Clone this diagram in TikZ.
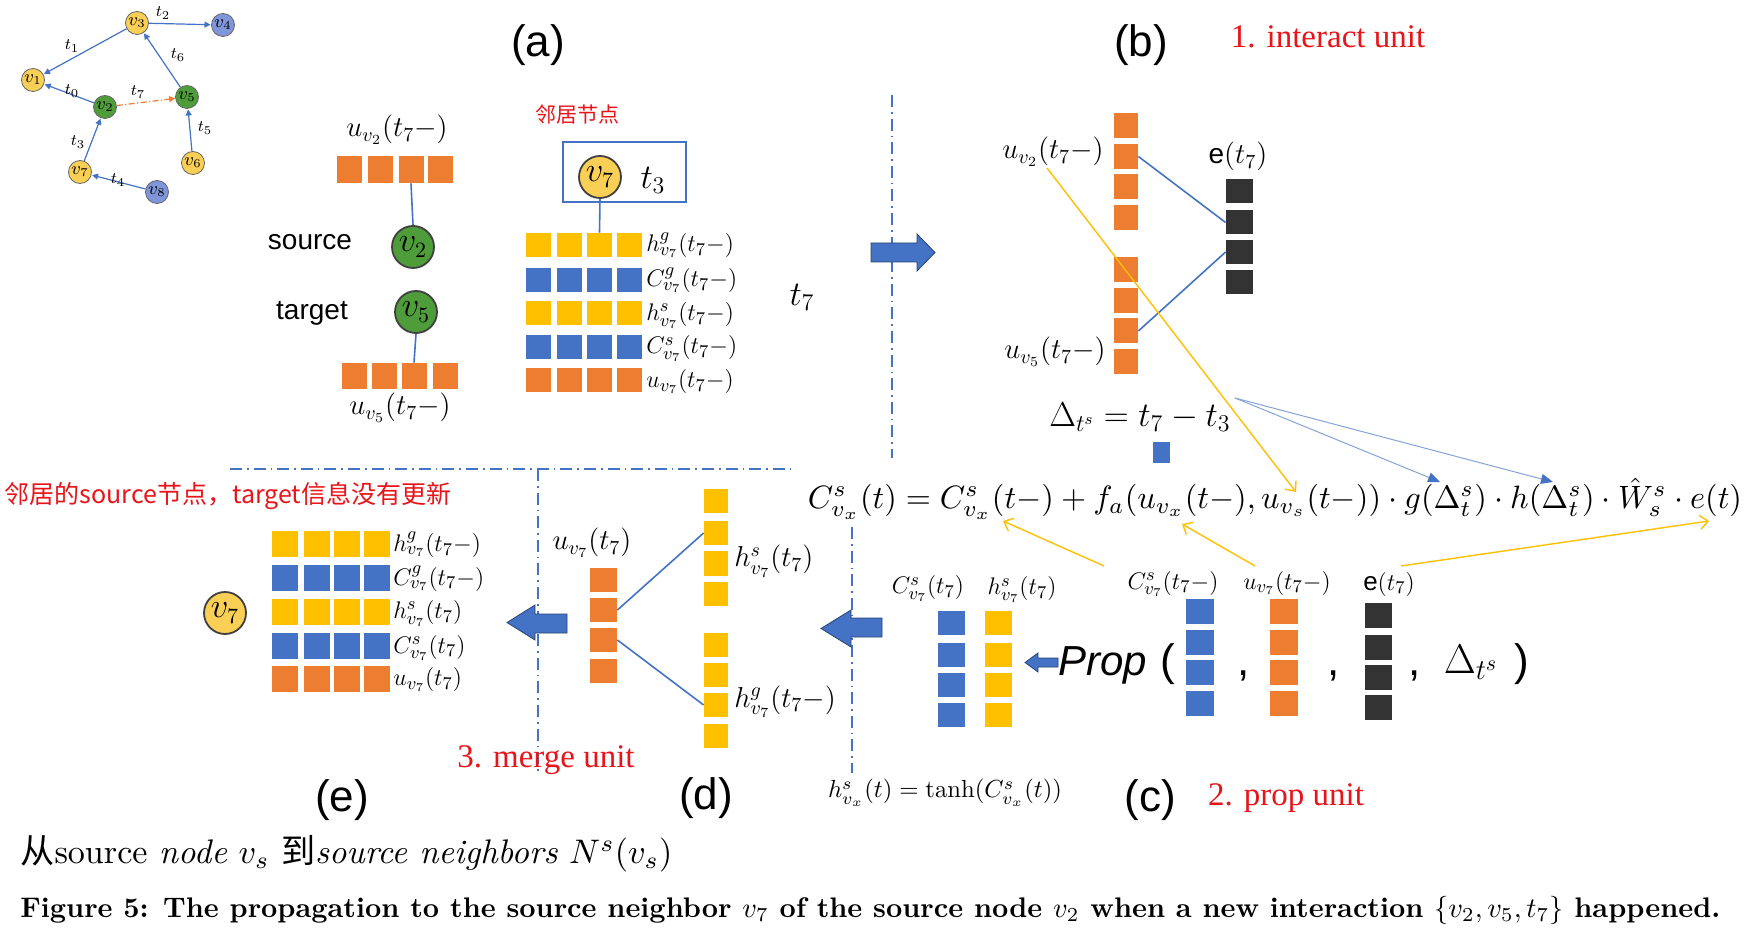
\documentclass[tikz,border=0pt]{standalone}
\usepackage{fontspec}
\usepackage{amsmath}
\usepackage{graphicx}
\usetikzlibrary{arrows.meta,calc}
\newfontfamily\arialf{Liberation Sans}
\newfontfamily\timesf{Liberation Serif}
\newfontfamily\cjkf{Noto Sans CJK SC}
\definecolor{cOr}{HTML}{ED7D31}
\definecolor{cYe}{HTML}{FFC000}
\definecolor{cBl}{HTML}{4472C4}
\definecolor{cBk}{HTML}{333333}
\definecolor{nYe}{HTML}{F9CF55}
\definecolor{nGr}{HTML}{4F9D3A}
\definecolor{nBl}{HTML}{7F96DA}
\definecolor{cRed}{HTML}{E8141A}
\newcommand{\fs}[1]{\fontsize{#1}{#1}\selectfont}
\begin{document}
\begin{tikzpicture}[x=0.5pt,y=-0.5pt,
  sq/.style={rectangle,inner sep=0pt,draw=none,minimum width=12.5pt,minimum height=12pt},
  gnode/.style={circle,draw=black!60,line width=0.4pt,minimum size=11.5pt,inner sep=0pt,font=\fs{9}},
  bignode/.style={circle,draw=black!75,line width=0.9pt,minimum size=21pt,inner sep=0pt,font=\fs{16}},
  gedge/.style={draw=cBl,line width=0.6pt,-{Triangle[length=3pt,width=3pt]},shorten >=0.3pt},
  oedge/.style={draw=cOr,line width=0.6pt,dash pattern=on 3pt off 1.2pt on 0.6pt off 1.2pt,-{Triangle[length=3pt,width=3pt]}},
  elab/.style={font=\fs{8.5},inner sep=0pt},
  conn/.style={draw=cBl,line width=0.8pt},
  ddot/.style={draw=cBl,line width=0.8pt,dash pattern=on 6pt off 2.5pt on 0.8pt off 2.5pt},
  yarr/.style={draw=cYe,line width=0.7pt,-{Straight Barb[length=4pt,width=7pt]}},
  barr/.style={draw=cBl!65,line width=0.5pt,-{Triangle[length=6pt,width=5pt,color=cBl]}},
  lab/.style={font=\fs{13},inner sep=0pt,text height=8pt,text depth=1pt},
  sanslab/.style={font=\arialf\fs{22},inner sep=0pt},
  redlab/.style={text=cRed,font=\timesf\fs{16.5},inner sep=0pt},
  blockarr/.style={fill=cBl,draw=cBl!60!black,line width=0.4pt}]
\fill[white] (0,0) rectangle (1757,935);
\useasboundingbox (0,0) rectangle (1757,935);

% ---------- small graph ----------
\node[gnode,fill=nYe] (g1) at (33,80) {$v_1$};
\node[gnode,fill=nGr] (g2) at (105,107) {$v_2$};
\node[gnode,fill=nYe] (g3) at (137,23) {$v_3$};
\node[gnode,fill=nBl] (g4) at (223,25) {$v_4$};
\node[gnode,fill=nGr] (g5) at (187,97) {$v_5$};
\node[gnode,fill=nYe] (g6) at (193,163) {$v_6$};
\node[gnode,fill=nYe] (g7) at (80,172) {$v_7$};
\node[gnode,fill=nBl] (g8) at (157,192) {$v_8$};
\draw[gedge] (g3) -- (g4);
\draw[gedge] (g3) -- (g1);
\draw[gedge] (g2) -- (g1);
\draw[gedge] (g5) -- (g3);
\draw[gedge] (g6) -- (g5);
\draw[gedge] (g7) -- (g2);
\draw[gedge] (g8) -- (g7);
\draw[oedge] (g2) -- (g5);
\node[elab] (t2) at (163,13) {$t_2$};
\node[elab] (t1) at (72,46) {$t_1$};
\node[elab] (t6) at (178,55) {$t_6$};
\node[elab] (t0) at (72,91) {$t_0$};
\node[elab] (t7g) at (138,92) {$t_7$};
\node[elab] (t5) at (205,128) {$t_5$};
\node[elab] (t3) at (78,142) {$t_3$};
\node[elab] (t4) at (118,180) {$t_4$};

% ---------- titles ----------
\node[sanslab] (la) at (538,45) {(a)};
\node[sanslab] (lb) at (1141,45) {(b)};
\node[redlab] (lint) at (1328,37) {1. interact unit};

% ---------- (a) source / target ----------
\node[lab,font=\fs{14}] (au2) at (397,130) {$u_{v_2}(t_7-)$};
\foreach \i/\x in {1/349.5,2/380.5,3/411,4/440.5}{
  \node[sq,fill=cOr,minimum height=13.5pt] (ao\i) at (\x,169.5) {};}
\node[bignode,fill=nGr] (av2) at (413,247) {$v_2$};
\node[font=\arialf\fs{14}] (asrc) at (310,242) {source};
\node[bignode,fill=nGr] (av5) at (416,312) {$v_5$};
\node[font=\arialf\fs{14}] (atgt) at (312,313) {target};
\foreach \i/\x in {1/354,2/384.5,3/414,4/445}{
  \node[sq,fill=cOr,minimum height=13pt] (bo\i) at (\x,376) {};}
\node[lab,font=\fs{14}] (au5) at (400,408) {$u_{v_5}(t_7-)$};
\draw[conn] (ao3.south) -- (av2.north);
\draw[conn] (av5.south) -- (bo3.north);

% ---------- (a) neighbour ----------
\node[text=cRed,font=\cjkf\fs{10.5}] (anb) at (577,115) {邻居节点};
\node[draw=cBl,line width=1pt,minimum width=61.5pt,minimum height=30pt,inner sep=0pt] (abox) at (624.5,172) {};
\node[bignode,fill=nYe] (nv7) at (600,177) {$v_7$};
\node[font=\fs{17}] (at3) at (653,180) {$t_3$};
\foreach \c/\x in {1/538,2/569.5,3/599.5,4/629.5}{
  \foreach \r/\y/\col in {1/245/cYe,2/280/cBl,3/313.5/cYe,4/347/cBl,5/380.5/cOr}{
    \node[sq,fill=\col] (am\r\c) at (\x,\y) {};}}
\draw[conn] (nv7.south) -- (am13.north);
\node[lab,anchor=west] (aml1) at (646,245) {$h^{g}_{v_7}(t_7-)$};
\node[lab,anchor=west] (aml2) at (646,280) {$C^{g}_{v_7}(t_7-)$};
\node[lab,anchor=west] (aml3) at (646,313.5) {$h^{s}_{v_7}(t_7-)$};
\node[lab,anchor=west] (aml4) at (646,347) {$C^{s}_{v_7}(t_7-)$};
\node[lab,anchor=west] (aml5) at (646,380.5) {$u_{v_7}(t_7-)$};

\node[font=\fs{17}] (t7big) at (802,297) {$t_7$};

% ---------- separators ----------
\coordinate (s1a) at (892,95); \coordinate (s1b) at (892,458);
\coordinate (s2a) at (230,469); \coordinate (s2b) at (796,469);
\coordinate (s3a) at (538,469); \coordinate (s3b) at (538,773);
\coordinate (s4a) at (852,527); \coordinate (s4b) at (852,773);
\draw[ddot] (s1a) -- (s1b);
\draw[ddot] (s2a) -- (s2b);
\draw[ddot] (s3a) -- (s3b);
\draw[ddot] (s4a) -- (s4b);

% block arrow a->b
\fill[blockarr] (871,243) -- (917,243) -- (917,234) -- (935,252.5) -- (917,271) -- (917,262) -- (871,262) -- cycle;

% ---------- (b) ----------
\foreach \i/\y in {1/126,2/156.5,3/187,4/217.5,5/270,6/300.5,7/331,8/361.5}{
  \node[sq,fill=cOr,minimum width=12pt,minimum height=12.5pt] (bc\i) at (1126,\y) {};}
\foreach \i/\y in {1/191.5,2/222.5,3/252,4/282}{
  \node[sq,fill=cBk,minimum width=13.5pt,minimum height=12pt] (bk\i) at (1239.5,\y) {};}
\draw[conn] (bc2.east) -- (bk2.west);
\draw[conn] (bc7.east) -- (bk3.west);
\node[lab,anchor=east,font=\fs{14}] (bu2) at (1104,152) {$u_{v_2}(t_7-)$};
\node[lab,anchor=east,font=\fs{14}] (bu5) at (1106,352) {$u_{v_5}(t_7-)$};
\node[lab,font=\fs{14}] (be) at (1238,157) {{\arialf e}$(t_7)$};
\node[font=\fs{17},inner sep=0pt] (bdelta) at (1140,417) {$\Delta_{t^s} = t_7 - t_3$};
\node[sq,fill=cBl,minimum width=8.5pt,minimum height=10.5pt] (bsq) at (1161.5,452.5) {};

% ---------- formula ----------
\node[inner sep=0pt] (form) at (1275,499) {\resizebox{467pt}{!}{$C^{s}_{v_x}(t) = C^{s}_{v_x}(t-) + f_a(u_{v_x}(t-), u_{v_s}(t-)) \cdot g(\Delta^{s}_{t}) \cdot h(\Delta^{s}_{t}) \cdot \hat{W}^{s}_{s} \cdot e(t)$}};
\coordinate (ystart) at (1047,168);
\coordinate (tipus) at (1296,492);
\coordinate (dstart) at (1235,398);
\coordinate (tipg) at (1440,482);
\coordinate (tiph) at (1553,482);
\coordinate (tipC) at (1003,521);
\coordinate (tipux) at (1182,524);
\coordinate (tipe) at (1709,521);
\draw[yarr] (ystart) -- (tipus);
\draw[barr] (dstart) -- (tipg);
\draw[barr] (dstart) -- (tiph);

% ---------- (c) ----------
\fill[blockarr] (882,618) -- (851,618) -- (851,610) -- (821,628.5) -- (851,647) -- (851,637) -- (882,637) -- cycle;
\foreach \i/\y in {1/622.5,2/655,3/685,4/715}{
  \node[sq,fill=cBl,minimum width=13.5pt,minimum height=12pt] (cb\i) at (951.5,\y) {};
  \node[sq,fill=cYe,minimum width=13.5pt,minimum height=12pt] (cy\i) at (998.5,\y) {};}
\node[lab] (clC) at (928,587) {$C^{s}_{v_7}(t_7)$};
\node[lab] (clh) at (1022,588) {$h^{s}_{v_7}(t_7)$};
\fill[blockarr] (1058,658) -- (1038,658) -- (1038,653) -- (1025,662.5) -- (1038,672) -- (1038,667) -- (1058,667) -- cycle;
\node[font=\arialf\itshape\fs{21},inner sep=0pt,anchor=base west] (prop) at (1058,675) {Prop};
\node[font=\arialf\fs{22},inner sep=0pt,anchor=base] (lpar) at (1168,675) {(};
\foreach \i/\y in {1/611.5,2/642.5,3/672.5,4/703.5}{
  \node[sq,fill=cBl,minimum width=14pt,minimum height=12.5pt] (pb\i) at (1200,\y) {};
  \node[sq,fill=cOr,minimum width=14pt,minimum height=12.5pt] (po\i) at (1284,\y) {};}
\foreach \i/\y in {1/615,2/647.5,3/677.5,4/707}{
  \node[sq,fill=cBk,minimum width=13.5pt,minimum height=12.5pt] (pk\i) at (1378,\y) {};}
\node[font=\arialf\fs{22},inner sep=0pt,anchor=base] (cm1) at (1244,675) {,};
\node[font=\arialf\fs{22},inner sep=0pt,anchor=base] (cm2) at (1334,675) {,};
\node[font=\arialf\fs{22},inner sep=0pt,anchor=base] (cm3) at (1415,675) {,};
\node[font=\fs{22},inner sep=0pt,anchor=base] (pdelta) at (1471,673) {$\Delta_{t^s}$};
\node[font=\arialf\fs{22},inner sep=0pt,anchor=base] (rpar) at (1522,675) {)};
\node[lab] (plC) at (1173,582) {$C^{s}_{v_7}(t_7-)$};
\node[lab] (plu) at (1287,582) {$u_{v_7}(t_7-)$};
\node[lab] (ple) at (1389,583) {{\arialf e}$(t_7)$};
\coordinate (yc1) at (1104,566);
\coordinate (yc2) at (1255,566);
\coordinate (yc3) at (1401,566);
\draw[yarr] (yc1) -- (tipC);
\draw[yarr] (yc2) -- (tipux);
\draw[yarr] (yc3) -- (tipe);
\node[inner sep=0pt] (tanh) at (945,793) {\resizebox{117pt}{!}{$h^{s}_{v_x}(t) = \tanh(C^{s}_{v_x}(t))$}};
\node[sanslab] (lc) at (1150,800) {(c)};
\node[redlab] (lprop) at (1286,798) {2. prop unit};

% ---------- (d) ----------
\fill[blockarr] (567,614) -- (535,614) -- (535,605) -- (507,622.5) -- (535,640) -- (535,633) -- (567,633) -- cycle;
\foreach \i/\y in {1/580,2/610,3/640,4/670.5}{
  \node[sq,fill=cOr,minimum width=13.5pt,minimum height=12pt] (do\i) at (603.5,\y) {};}
\foreach \i/\y in {1/501,2/533,3/563.5,4/593.5,5/645,6/675,7/705,8/735.5}{
  \node[sq,fill=cYe,minimum width=12pt,minimum height=12pt] (dy\i) at (716,\y) {};}
\draw[conn] (do2.east) -- (dy2.west);
\draw[conn] (do3.east) -- (dy7.west);
\node[lab,font=\fs{14}] (dlu) at (592,543) {$u_{v_7}(t_7)$};
\node[lab,anchor=west,font=\fs{14}] (dlh) at (734,560) {$h^{s}_{v_7}(t_7)$};
\node[lab,anchor=west,font=\fs{14}] (dlg) at (734,700) {$h^{g}_{v_7}(t_7-)$};
\node[redlab] (lmerge) at (546,760) {3. merge unit};
\node[sanslab] (ld) at (706,798) {(d)};

% ---------- (e) ----------
\node[text=cRed,font=\cjkf\fs{12.5},inner sep=0pt] (ered) at (228,496) {邻居的source节点，target信息没有更新};
\node[bignode,fill=nYe] (ev7) at (225,613) {$v_7$};
\foreach \c/\x in {1/285,2/316.5,3/346.5,4/377}{
  \foreach \r/\y/\col in {1/544.5/cYe,2/578/cBl,3/611.5/cYe,4/646/cBl,5/678.5/cOr}{
    \node[sq,fill=\col,minimum width=13pt,minimum height=13pt] (em\r\c) at (\x,\y) {};}}
\node[lab,anchor=west] (eml1) at (393,544.5) {$h^{g}_{v_7}(t_7-)$};
\node[lab,anchor=west] (eml2) at (393,578) {$C^{g}_{v_7}(t_7-)$};
\node[lab,anchor=west] (eml3) at (393,611.5) {$h^{s}_{v_7}(t_7)$};
\node[lab,anchor=west] (eml4) at (393,646) {$C^{s}_{v_7}(t_7)$};
\node[lab,anchor=west] (eml5) at (393,678.5) {$u_{v_7}(t_7)$};
\node[sanslab] (le) at (342,800) {(e)};

% ---------- bottom text ----------
\node[inner sep=0pt,anchor=west] (bot1) at (20,854) {\resizebox{326pt}{!}{{\cjkf 从}source \textit{node} $v_s$ {\cjkf 到}\textit{source neighbors} $N^s(v_s)$}};
\node[inner sep=0pt,anchor=west] (cap) at (20,910) {\resizebox{850pt}{!}{\bfseries Figure 5: The propagation to the source neighbor $v_7$ of the source node $v_2$ when a new interaction $\{v_2, v_5, t_7\}$ happened.}};
\end{tikzpicture}
\end{document}
